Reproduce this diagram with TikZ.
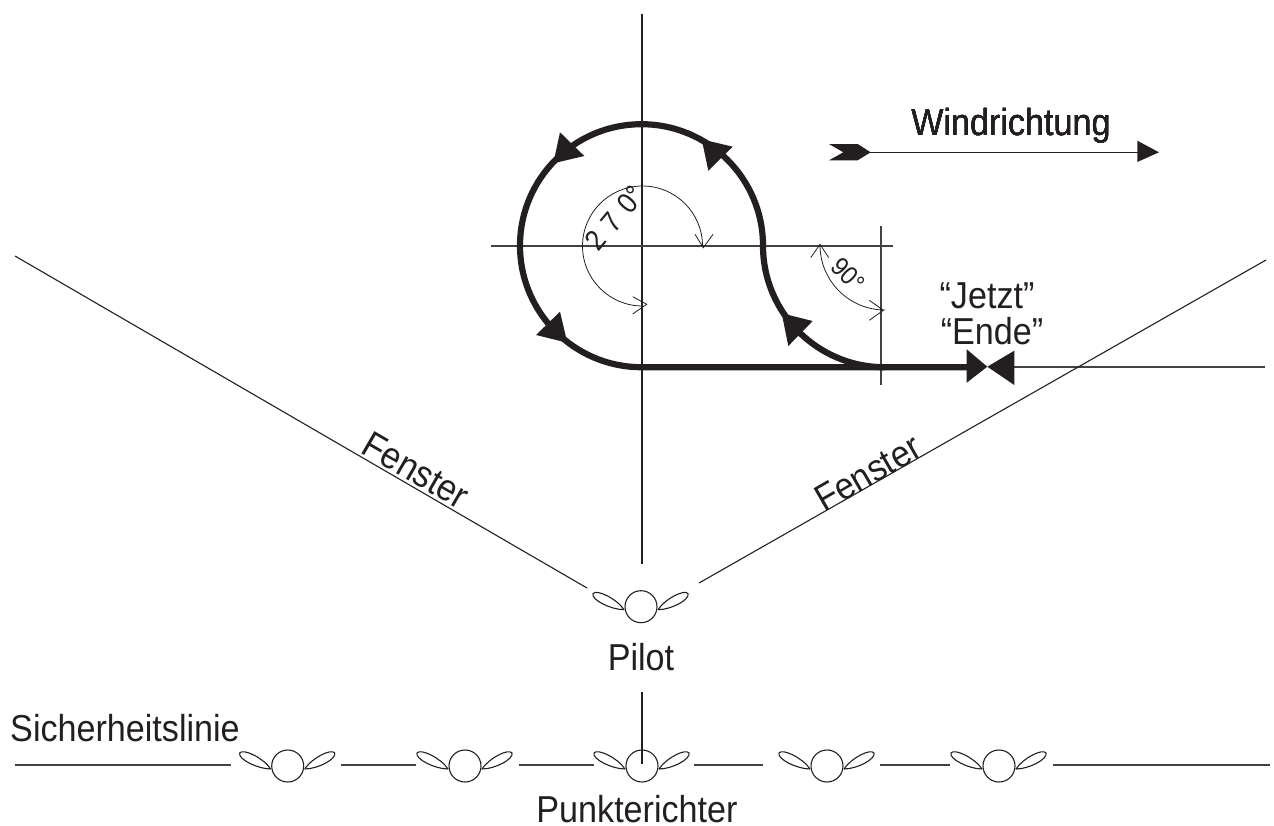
\documentclass[tikz,border=0pt]{standalone}
\usepackage{fontspec}
\setmainfont[FakeStretch=0.91]{Liberation Sans}
\definecolor{ink}{HTML}{231F20}
\tikzset{
	thinline/.style={draw=ink, line width=1.1pt},
	greyline/.style={draw=ink!85, line width=1.6pt},
	flight/.style={draw=ink, line width=6.2pt},
	head/.style={fill=ink, draw=none},
	openhead/.style={draw=ink, line width=0.8pt},
	label/.style={text=ink, font=\fontsize{37.5}{38}\selectfont, inner sep=0pt, anchor=base},
	slanted/.style={text=ink, font=\fontsize{37.5}{38}\selectfont, inner sep=0pt},
	smalllabel/.style={text=ink, font=\fontsize{29}{29}\selectfont, inner sep=0pt}
}
% one person seen from above, the argument is the middle of the body
\newcommand{\figur}[1]{
	\draw[thinline, shift={(#1)}] (0,0) circle (16);
	\draw[thinline, shift={(#1)}] (-17,3) .. controls (-30,3) and (-50,-7) .. (-48,-13) .. controls (-45,-18) and (-24,-8) .. (-17,3);
	\draw[thinline, shift={(#1)}] (17,3) .. controls (30,3) and (49,-7) .. (47,-13) .. controls (44,-18) and (24,-8) .. (17,3);
}
\begin{document}
\begin{tikzpicture}[x=1pt, y=-1pt]
	\useasboundingbox (0,0) rectangle (1274,825);
	% axes of the circle
	\draw[thinline] (642,14) -- (642,564);
	\draw[greyline] (491,245.7) -- (893,245.7);
	\draw[greyline] (880.7,226) -- (880.7,385);
	\draw[greyline] (1014,366.7) -- (1265,366.7);
	% window
	\draw[thinline] (15,256) -- (587,588);
	\draw[thinline] (1266,260) -- (699,583);
	% flight path
	\draw[flight] (763,245.7) arc[start angle=0, end angle=-270, radius=121.5] -- (975,367.2);
	\draw[flight] (763,245.7) arc[start angle=180, end angle=90, radius=121.5];
	\fill[head] (701.7,139.3) -- (732.7,146.7) -- (708.3,170.7) -- cycle;
	\fill[head] (560,132.3) -- (584.3,156) -- (553.3,163.3) -- cycle;
	\fill[head] (536,335) -- (560,311.7) -- (567.3,342.7) -- cycle;
	\fill[head] (781.7,313.3) -- (812.7,321) -- (788.3,346) -- cycle;
	% end marker
	\fill[head] (966.7,349.3) -- (987.3,366.7) -- (966.7,382.7) -- cycle;
	\fill[head] (1014.3,350.7) -- (987.3,366.7) -- (1014.3,385) -- cycle;
	% angles
	\draw[openhead] (702.5,246) arc[start angle=0, end angle=-270, radius=60];
	\draw[openhead] (695,234.3) -- (703.3,247.7) -- (713,234.3);
	\draw[openhead] (632.7,296.7) -- (646.7,304.3) -- (632.7,314);
	\draw[openhead] (820,245) arc[start angle=180, end angle=90, radius=65];
	\draw[openhead] (810.7,257.7) -- (820,244.3) -- (828.7,257.7);
	\draw[openhead] (869.3,300.3) -- (883.3,310.3) -- (869.3,320.3);
	% wind
	\draw[thinline] (870,152.3) -- (1138,152.3);
	\fill[head] (829,144) -- (857.7,144) -- (870.7,152.3) -- (857.7,160.3) -- (829,160.3) -- (843.3,152.3) -- cycle;
	\fill[head] (1137.3,140.7) -- (1159,152.3) -- (1137.3,162) -- cycle;
	% safety line
	\foreach \xa/\xb in {15/231, 341/416, 519/594, 694/763, 880/950, 1053/1270}
		\draw[greyline] (\xa,764.7) -- (\xb,764.7);
	\draw[thinline] (642,692) -- (642,764);
	% people
	\figur{641,606.7}
	\foreach \xc in {287.7, 465, 642, 827, 999}
		\figur{\xc,766}
	% texts
	\node[label] (wind) at (1011,135) {Windrichtung};
	\node[label] (jetzt) at (987,308) {``Jetzt''};
	\node[label] (ende) at (992,344) {``Ende''};
	\node[label] (pilot) at (641,670) {Pilot};
	\node[label] (linie) at (125,741) {Sicherheitslinie};
	\node[label] (richter) at (637,822) {Punkterichter};
	\node[slanted, rotate=-30] (fensterl) at (416,470) {Fenster};
	\node[slanted, rotate=30] (fensterr) at (868,473) {Fenster};
	\node[smalllabel, rotate=50] (winkela) at (615,218) {2\,\,7\,\,0°};
	\node[smalllabel, rotate=-45, font=\fontsize{26}{26}\selectfont] (winkelb) at (848,275) {90°};
\end{tikzpicture}
\end{document}
